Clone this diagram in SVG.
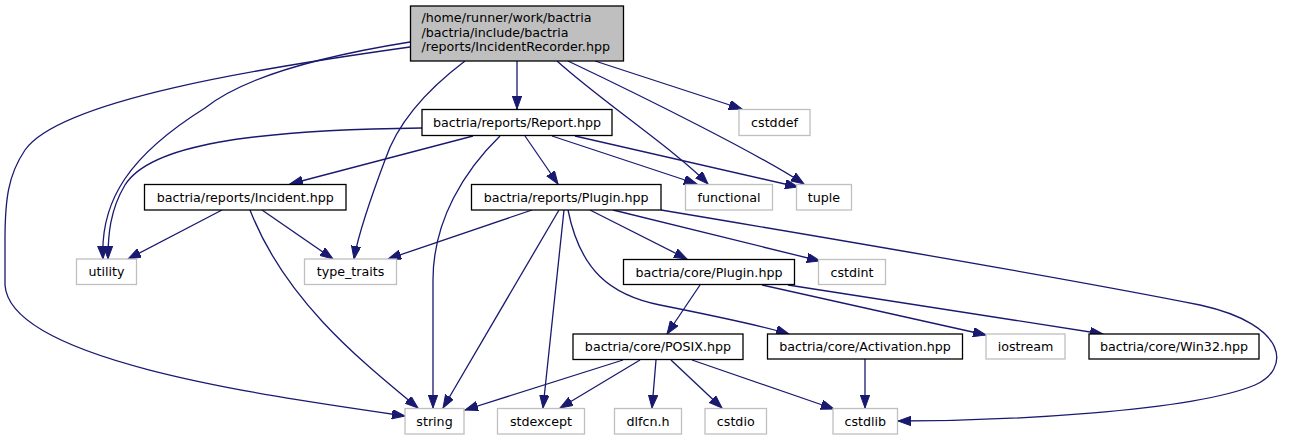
<svg xmlns="http://www.w3.org/2000/svg" width="1290" height="440" viewBox="0 0 1290 440">
<style>
text{font-family:"DejaVu Sans",sans-serif;font-size:12.67px;fill:#000}
.n rect{fill:#fff;stroke:#000;stroke-width:1.3}
.x rect{fill:#fff;stroke:#bfbfbf;stroke-width:1.3}
.r rect{fill:#bfbfbf;stroke:#000;stroke-width:1.3}
.c text{text-anchor:middle}
#edges path{fill:none;stroke:#191970;stroke-width:1.3;marker-end:url(#ah)}
</style>
<defs>
<marker id="ah" markerUnits="userSpaceOnUse" markerWidth="14" markerHeight="10" refX="13" refY="4.7" orient="auto" viewBox="0 0 14 10">
<path d="M0,0 L13,4.7 L0,9.4 z" fill="#191970" stroke="#191970" stroke-width="1"/>
</marker>
</defs>
<rect width="1290" height="440" fill="#fff"/>
<g id="edges">
<path d="M517,61 L517,109"/>
<path d="M410,42 C310,58 240,80 205,108 C130,155 100,200 103,259"/>
<path d="M410,47 C260,68 60,100 25,150 C8,175 5,200 5,240 L5,285 C10,360 260,395 405,416"/>
<path d="M465,61 C420,95 395,130 385,160 C370,200 358,235 354,259"/>
<path d="M557,61 C600,100 675,150 708,184"/>
<path d="M568,61 C650,100 760,155 804,184"/>
<path d="M595,61 L742,109"/>
<path d="M422,128 C250,130 150,145 125,185 C110,210 108,235 108,259"/>
<path d="M473,136 L290,184"/>
<path d="M500,136 C465,170 433,220 433,280 L433,408"/>
<path d="M525,136 L558,184"/>
<path d="M552,136 L697,184"/>
<path d="M575,136 L798,187"/>
<path d="M222,210 L128,259"/>
<path d="M262,210 L333,259"/>
<path d="M250,210 C285,300 360,360 418,408"/>
<path d="M532,210 L388,259"/>
<path d="M559,210 L443,408"/>
<path d="M564,210 L543,408"/>
<path d="M661,210 C900,250 1100,285 1200,305 C1290,325 1290,370 1255,385 C1190,412 1000,421 898,421"/>
<path d="M590,210 L687,259"/>
<path d="M613,210 L820,261"/>
<path d="M568,210 C580,270 610,295 660,305 C710,315 760,325 789,334"/>
<path d="M700,285 L667,334"/>
<path d="M762,285 L986,335"/>
<path d="M788,285 L1103,334"/>
<path d="M623,360 L465,410"/>
<path d="M640,360 L560,408"/>
<path d="M656,360 L652,408"/>
<path d="M671,360 L722,408"/>
<path d="M692,360 L834,409"/>
<path d="M865,359 L865,408"/>
</g>
<g id="root" class="r"><rect x="410.5" y="6" width="213" height="55"/>
<text x="421.5" y="21.8">/home/runner/work/bactria</text>
<text x="421.5" y="36.6">/bactria/include/bactria</text>
<text x="421.5" y="51.3">/reports/IncidentRecorder.hpp</text></g>
<g id="report" class="n c"><rect x="422" y="109.5" width="190" height="26"/><text x="517" y="126.5">bactria/reports/Report.hpp</text></g>
<g id="cstddef" class="x c"><rect x="739" y="109.5" width="71" height="26"/><text x="774.5" y="126.5">cstddef</text></g>
<g id="incident" class="n c"><rect x="144.5" y="184.5" width="201.5" height="25.5"/><text x="245.25" y="201.5">bactria/reports/Incident.hpp</text></g>
<g id="plugin_r" class="n c"><rect x="471.5" y="184.5" width="189.5" height="25.5"/><text x="566.25" y="201.5">bactria/reports/Plugin.hpp</text></g>
<g id="functional" class="x c"><rect x="685.5" y="184.5" width="87" height="25.5"/><text x="729" y="201.5">functional</text></g>
<g id="tuple" class="x c"><rect x="796.5" y="184.5" width="55" height="25.5"/><text x="824" y="201.5">tuple</text></g>
<g id="utility" class="x c"><rect x="76.5" y="259" width="60" height="25.5"/><text x="106.5" y="276">utility</text></g>
<g id="type_traits" class="x c"><rect x="304.5" y="259" width="92" height="25.5"/><text x="350.5" y="276">type_traits</text></g>
<g id="core_plugin" class="n c"><rect x="623.5" y="259.5" width="171" height="25"/><text x="709" y="276.5">bactria/core/Plugin.hpp</text></g>
<g id="cstdint" class="x c"><rect x="818.5" y="259.5" width="67" height="25"/><text x="852" y="276.5">cstdint</text></g>
<g id="posix" class="n c"><rect x="573" y="334" width="170" height="25.5"/><text x="658" y="351">bactria/core/POSIX.hpp</text></g>
<g id="activation" class="n c"><rect x="767.5" y="334" width="195" height="25"/><text x="865" y="351">bactria/core/Activation.hpp</text></g>
<g id="iostream" class="x c"><rect x="986" y="334" width="79" height="25"/><text x="1025.5" y="351">iostream</text></g>
<g id="win32" class="n c"><rect x="1089" y="334" width="170" height="25"/><text x="1174" y="351">bactria/core/Win32.hpp</text></g>
<g id="string" class="x c"><rect x="405" y="408.5" width="59" height="25.5"/><text x="434.5" y="425.5">string</text></g>
<g id="stdexcept" class="x c"><rect x="497.5" y="408.5" width="87" height="25.5"/><text x="541" y="425.5">stdexcept</text></g>
<g id="dlfcn" class="x c"><rect x="614.5" y="408.5" width="67" height="25.5"/><text x="648" y="425.5">dlfcn.h</text></g>
<g id="cstdio" class="x c"><rect x="705" y="408.5" width="61.5" height="25.5"/><text x="735.75" y="425.5">cstdio</text></g>
<g id="cstdlib" class="x c"><rect x="833" y="408.5" width="64.5" height="25.5"/><text x="865.25" y="425.5">cstdlib</text></g>
</svg>
